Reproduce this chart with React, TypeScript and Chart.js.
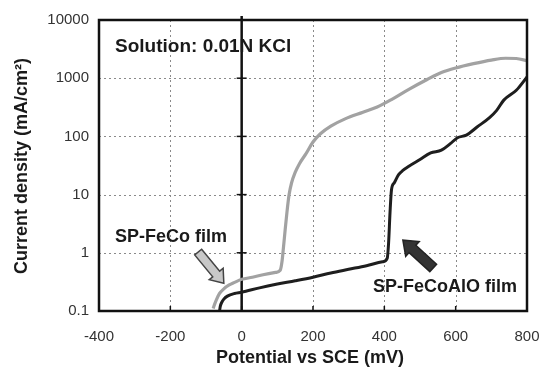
import React, { useEffect, useRef } from "react";
import { Chart, registerables } from "chart.js";

Chart.register(...registerables);

// SP-FeCo film (gray curve)
const fecoPotential = [-80, -76, -70, -62, -50, -35, -20, 0, 30, 60, 95, 108, 113, 117, 122, 127, 133, 140, 150, 162, 180, 200, 220, 250, 290, 340, 380, 420, 470, 520, 560, 600, 650, 700, 740, 770, 800];
const fecoCurrent = [0.11, 0.13, 0.16, 0.2, 0.24, 0.28, 0.31, 0.35, 0.38, 0.42, 0.46, 0.5, 0.7, 1.2, 2.5, 5, 10, 16, 24, 34, 50, 80, 110, 150, 200, 260, 320, 430, 650, 950, 1250, 1500, 1780, 2050, 2200, 2180, 2000];

// SP-FeCoAlO film (black curve)
const alPotential = [-62, -60, -56, -50, -40, -20, 0, 50, 100, 150, 200, 250, 300, 350, 395, 408, 412, 416, 420, 428, 440, 452, 470, 500, 530, 560, 585, 605, 630, 660, 695, 715, 735, 770, 800];
const alCurrent = [0.1, 0.12, 0.14, 0.16, 0.18, 0.2, 0.21, 0.25, 0.29, 0.33, 0.38, 0.45, 0.52, 0.6, 0.7, 0.8, 1.5, 5, 12, 16, 22, 26, 31, 40, 52, 58, 75, 95, 105, 145, 210, 280, 420, 620, 1050];

const xTicks = [-400, -200, 0, 200, 400, 600, 800];
const yTicks = [0.1, 1, 10, 100, 1000, 10000];
const yTickLabels = ["0.1", "1", "10", "100", "1000", "10000"];

const xTitle = "Potential vs SCE (mV)";
const yTitle = "Current density (mA/cm²)";
const solutionLabel = "Solution: 0.01N KCl";
const fecoLabel = "SP-FeCo film";
const alLabel = "SP-FeCoAlO film";

// annotation anchors in data coordinates
const solutionAt = { x: -355, y: 3430 };
const fecoLabelAt = { x: -355, y: 1.87 };
const alLabelAt = { x: 368, y: 0.26 };
const fecoArrow = { from: { x: -122, y: 1.03 }, to: { x: -50, y: 0.3 } };
const alArrow = { from: { x: 537, y: 0.55 }, to: { x: 452, y: 1.65 } };

const FONT = "'Liberation Sans', Arial, Helvetica, sans-serif";

function drawArrow(ctx: CanvasRenderingContext2D, x1: number, y1: number, x2: number, y2: number, shaftW: number, headW: number, headL: number, fill: string, stroke: string) {
  const ang = Math.atan2(y2 - y1, x2 - x1);
  const len = Math.hypot(x2 - x1, y2 - y1);
  ctx.save();
  ctx.translate(x1, y1);
  ctx.rotate(ang);
  ctx.beginPath();
  ctx.moveTo(0, -shaftW / 2);
  ctx.lineTo(len - headL, -shaftW / 2);
  ctx.lineTo(len - headL, -headW / 2);
  ctx.lineTo(len, 0);
  ctx.lineTo(len - headL, headW / 2);
  ctx.lineTo(len - headL, shaftW / 2);
  ctx.lineTo(0, shaftW / 2);
  ctx.closePath();
  ctx.fillStyle = fill;
  ctx.fill();
  ctx.lineWidth = 1.5;
  ctx.strokeStyle = stroke;
  ctx.stroke();
  ctx.restore();
}

const decorPlugin = {
  id: "decor",
  beforeDatasetsDraw(chart: any) {
    const { ctx, chartArea: a, scales } = chart;
    const xs = scales.x;
    const ys = scales.y;
    ctx.save();
    // dotted grid
    ctx.strokeStyle = "#8a8a8a";
    ctx.lineWidth = 1;
    ctx.setLineDash([2, 3]);
    yTicks.slice(1, -1).forEach((v) => {
      const py = Math.round(ys.getPixelForValue(v)) + 0.5;
      ctx.beginPath();
      ctx.moveTo(a.left, py);
      ctx.lineTo(a.right, py);
      ctx.stroke();
    });
    xTicks.filter((v) => v !== 0 && v !== xTicks[0] && v !== xTicks[xTicks.length - 1]).forEach((v) => {
      const px = Math.round(xs.getPixelForValue(v)) + 0.5;
      ctx.beginPath();
      ctx.moveTo(px, a.top);
      ctx.lineTo(px, a.bottom);
      ctx.stroke();
    });
    ctx.setLineDash([]);
    // zero line
    const x0 = xs.getPixelForValue(0);
    ctx.strokeStyle = "#111";
    ctx.lineWidth = 2.5;
    ctx.beginPath();
    ctx.moveTo(x0, a.top - 4);
    ctx.lineTo(x0, a.bottom);
    ctx.stroke();
    ctx.lineWidth = 1.5;
    yTicks.slice(1, -1).forEach((v) => {
      const py = ys.getPixelForValue(v);
      ctx.beginPath();
      ctx.moveTo(x0 - 5, py);
      ctx.lineTo(x0 + 5, py);
      ctx.stroke();
    });
    // bottom axis ticks
    xTicks.slice(1, -1).forEach((v) => {
      const px = xs.getPixelForValue(v);
      ctx.beginPath();
      ctx.moveTo(px, a.bottom);
      ctx.lineTo(px, a.bottom - 5);
      ctx.stroke();
    });
    ctx.restore();
  },
  afterDatasetsDraw(chart: any) {
    const { ctx, chartArea: a, scales } = chart;
    const xs = scales.x;
    const ys = scales.y;
    const P = (p: { x: number; y: number }) => ({ x: xs.getPixelForValue(p.x), y: ys.getPixelForValue(p.y) });
    ctx.save();
    // frame
    ctx.strokeStyle = "#111";
    ctx.lineWidth = 2.5;
    ctx.strokeRect(a.left, a.top, a.right - a.left, a.bottom - a.top);

    // annotations
    ctx.fillStyle = "#1a1a1a";
    ctx.textBaseline = "middle";
    ctx.textAlign = "left";
    ctx.font = `bold 19px ${FONT}`;
    let p = P(solutionAt);
    ctx.fillText(solutionLabel, p.x, p.y);
    ctx.font = `bold 18px ${FONT}`;
    p = P(fecoLabelAt);
    ctx.fillText(fecoLabel, p.x, p.y);
    p = P(alLabelAt);
    ctx.fillText(alLabel, p.x, p.y);

    let f = P(fecoArrow.from), t = P(fecoArrow.to);
    drawArrow(ctx, f.x, f.y, t.x, t.y, 9, 18, 12, "#c8c8c8", "#444");
    f = P(alArrow.from); t = P(alArrow.to);
    drawArrow(ctx, f.x, f.y, t.x, t.y, 10, 20, 13, "#333", "#222");

    // axis titles
    ctx.font = `bold 18px ${FONT}`;
    ctx.textAlign = "center";
    ctx.fillText(xTitle, (a.left + a.right) / 2 - 3, a.bottom + 47);
    ctx.translate(22, (a.top + a.bottom) / 2 + 0.5);
    ctx.rotate(-Math.PI / 2);
    ctx.fillText(yTitle, 0, 0);
    ctx.restore();
  },
};

export default function App() {
  const ref = useRef<HTMLCanvasElement>(null);
  useEffect(() => {
    if (!ref.current) return;
    const chart = new Chart(ref.current, {
      type: "line",
      data: {
        datasets: [
          {
            label: fecoLabel,
            data: fecoPotential.map((x, i) => ({ x, y: fecoCurrent[i] })),
            borderColor: "#a2a2a2",
            borderWidth: 3.2,
            pointRadius: 0,
            cubicInterpolationMode: "monotone",
          },
          {
            label: alLabel,
            data: alPotential.map((x, i) => ({ x, y: alCurrent[i] })),
            borderColor: "#1e1e1e",
            borderWidth: 3,
            pointRadius: 0,
            cubicInterpolationMode: "monotone",
          },
        ],
      },
      options: {
        responsive: false,
        animation: false,
        layout: { padding: { top: 20, right: 13, left: 0, bottom: 0 } },
        plugins: { legend: { display: false }, tooltip: { enabled: false } },
        scales: {
          x: {
            type: "linear",
            min: -400,
            max: 800,
            afterBuildTicks: (s: any) => {
              s.ticks = xTicks.map((v) => ({ value: v }));
            },
            afterFit: (s: any) => {
              s.height = 58;
              s.paddingLeft = 0;
              s.paddingRight = 0;
            },
            grid: { display: false, drawTicks: false },
            border: { display: false },
            ticks: {
              padding: 17,
              color: "#333",
              font: { family: FONT, size: 15 },
              maxRotation: 0,
              callback: (v: any) => String(v),
            },
          },
          y: {
            type: "logarithmic",
            min: 0.1,
            max: 10000,
            afterBuildTicks: (s: any) => {
              s.ticks = yTicks.map((v) => ({ value: v }));
            },
            afterFit: (s: any) => {
              s.width = 99;
              s.paddingTop = 0;
              s.paddingBottom = 0;
            },
            grid: { display: false, drawTicks: false },
            border: { display: false },
            ticks: {
              padding: 10,
              color: "#333",
              font: { family: FONT, size: 15 },
              callback: (v: any) => {
                const i = yTicks.indexOf(Number(v));
                return i >= 0 ? yTickLabels[i] : "";
              },
            },
          },
        },
      },
      plugins: [decorPlugin],
    } as any);
    return () => chart.destroy();
  }, []);
  return (
    <div style={{ position: "fixed", left: 0, top: 0, width: 540, height: 369, background: "#fff" }}>
      <canvas ref={ref} width={540} height={369} />
    </div>
  );
}
